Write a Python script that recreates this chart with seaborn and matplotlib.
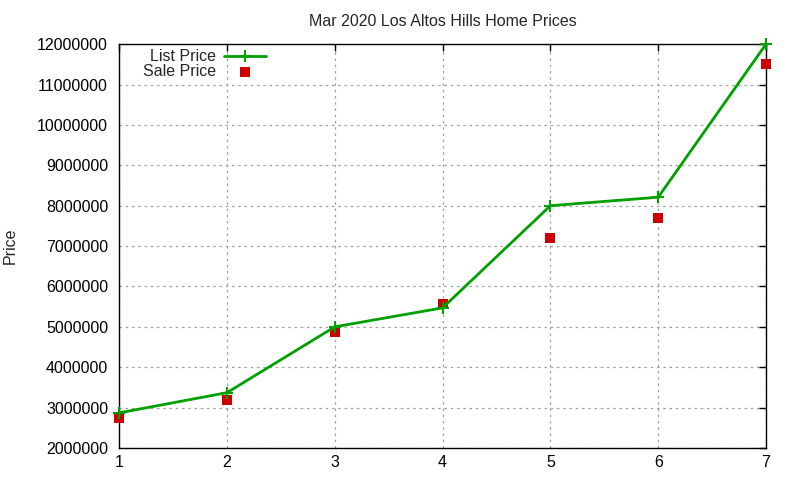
import pandas as pd
import matplotlib.pyplot as plt
import seaborn as sns

# Data
months = [1, 2, 3, 4, 5, 6, 7]
list_price = [2870000, 3370000, 5000000, 5470000, 8000000, 8210000, 12000000]
sale_price = [2740000, 3200000, 4860000, 5570000, 7210000, 7700000, 11510000]

df = pd.DataFrame({'n': months, 'List Price': list_price, 'Sale Price': sale_price})

sns.set_style("white")
plt.rcParams['font.family'] = ['Liberation Sans', 'DejaVu Sans']
plt.rcParams['font.size'] = 11

fig = plt.figure(figsize=(8, 4.8), dpi=100)
ax = fig.add_axes([0.149, 0.0667, 0.8085, 0.8413])

sns.lineplot(data=df, x='n', y='List Price', ax=ax, color='#00a000', linewidth=2,
             marker='+', markersize=9, markeredgewidth=1.5, markeredgecolor='#00a000',
             label='List Price', clip_on=False, zorder=4)
sns.scatterplot(data=df, x='n', y='Sale Price', ax=ax, color='#cc0000', marker='s',
                s=50, linewidth=0, label='Sale Price', zorder=3, clip_on=False)

ax.set_xlim(1, 7)
ax.set_ylim(2000000, 12000000)
ax.set_xticks(months)
ax.set_yticks(range(2000000, 12000001, 1000000))
ax.set_yticklabels([str(v) for v in range(2000000, 12000001, 1000000)])
ax.grid(True, color='#a0a0a0', linestyle=(0, (2, 3)), linewidth=0.9)
ax.tick_params(direction='in', length=5, top=True, right=True, labelsize=11.5,
               colors='black', width=1)
ax.tick_params(axis='y', pad=8)
ax.tick_params(axis='x', pad=5)
for sp in ax.spines.values():
    sp.set_color('black')
    sp.set_linewidth(1)

ax.set_title('Mar 2020 Los Altos Hills Home Prices', fontsize=11.5, pad=13)
ax.set_xlabel('')
ax.set_ylabel('Price', fontsize=11.5, labelpad=14)

ax.legend(loc='upper left', bbox_to_anchor=(0.0195, 1.015), frameon=False, markerfirst=False,
          fontsize=11.5, handlelength=2.6, handletextpad=0.5, labelspacing=0.0,
          borderaxespad=0.3)

plt.savefig('out.png', dpi=100)
